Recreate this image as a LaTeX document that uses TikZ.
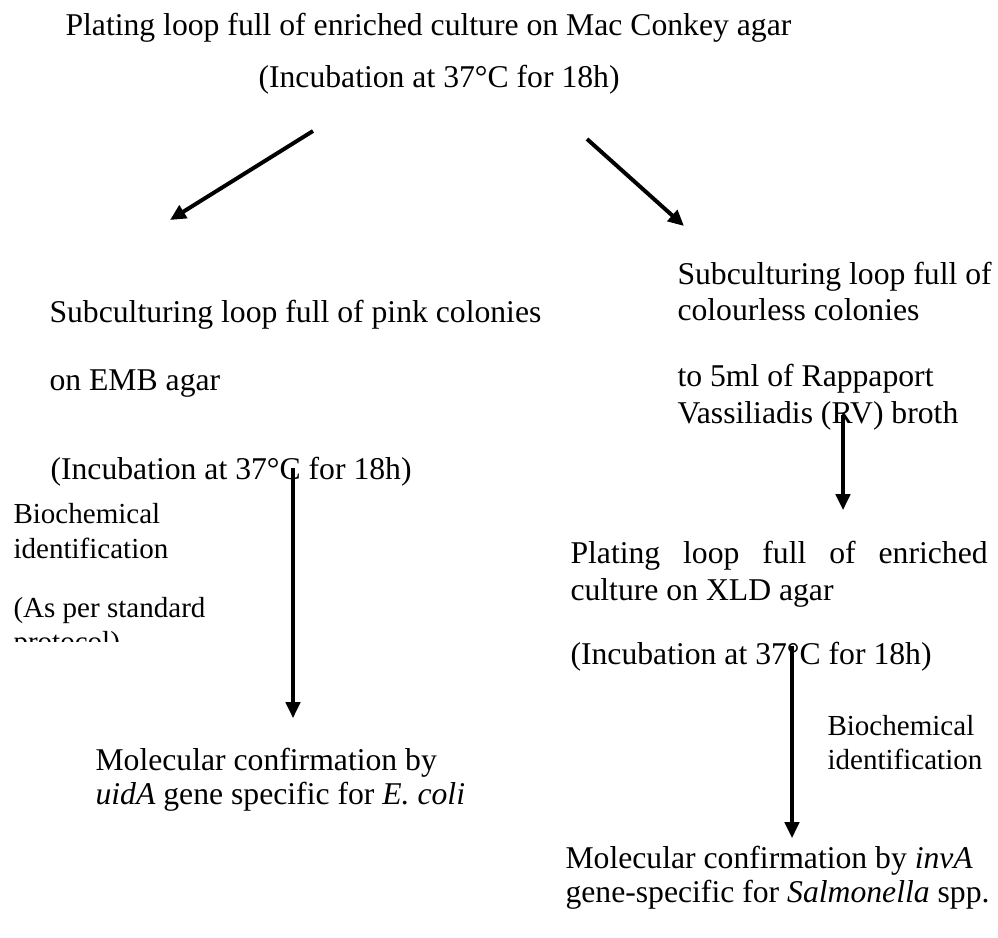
\documentclass[tikz,border=0pt]{standalone}
\usepackage{fontspec}
\setmainfont{Liberation Serif}
\usetikzlibrary{arrows.meta,positioning}
\tikzset{textline/.style={anchor=base west, inner sep=0pt,
  font=\fontsize{12}{13.8}\selectfont},
  noteline/.style={anchor=base west, inner sep=0pt,
  font=\fontsize{11}{12.65}\selectfont},
  flowarrow/.style={-{Triangle[length=6pt,width=5.5pt]}, line width=1.2pt},
  splitarrow/.style={flowarrow, line width=1.5pt}}

\begin{document}
\begin{tikzpicture}[x=0.3788pt,y=-0.3788pt]
    \useasboundingbox (0,0) rectangle (998,937);
    % Mac Conkey plating
    \node[textline] (mac) at (65,35) {Plating loop full of enriched culture on Mac Conkey agar};
    \node[textline] (macinc) at (258,87) {(Incubation at 37°C for 18h)};
    % E. coli branch
    \node[textline] (emb1) at (49,322) {Subculturing loop full of pink colonies};
    \node[textline] (emb2) at (49,390) {on EMB agar};
    \node[textline] (embinc) at (50,479) {(Incubation at 37°C for 18h)};
    \node[noteline] (bio1) at (13,523) {Biochemical};
    \node[noteline] (bio2) at (13,558) {identification};
    \node[noteline] (std) at (13,617) {(As per standard};
    \begin{scope}
      \clip (0,600) rectangle (300,641);
      \node[noteline] (prot) at (13,651) {protocol)};
    \end{scope}
    \node[textline] (eco1) at (95,770) {Molecular confirmation by};
    \node[textline] (eco2) at (95,804) {\textit{uidA} gene specific for \textit{E. coli}};
    % Salmonella branch
    \node[textline] (rv1) at (677,284) {Subculturing loop full of};
    \node[textline] (rv2) at (677,320) {colourless colonies};
    \node[textline] (rv3) at (677,386) {to 5ml of Rappaport};
    \node[textline] (rv4) at (677,423) {Vassiliadis (RV) broth};
    \node[textline] (xld1) at (570,563) {\makebox[158pt][s]{Plating loop full of enriched}};
    \node[textline] (xld2) at (570,600) {culture on XLD agar};
    \node[textline] (xldinc) at (570,664) {(Incubation at 37°C for 18h)};
    \node[noteline] (bio3) at (827,735) {Biochemical};
    \node[noteline] (bio4) at (827,769) {identification};
    \node[textline] (sal1) at (565,868) {Molecular confirmation by \textit{invA}};
    \node[textline] (sal2) at (565,902) {gene-specific for \textit{Salmonella} spp.};
    % arrows
    \coordinate (la) at (313,131);
    \coordinate (lb) at (170,220);
    \coordinate (ra) at (587,139);
    \coordinate (rb) at (684,226);
    \coordinate (ea) at (293,468);
    \coordinate (eb) at (293,718);
    \coordinate (va) at (843,415);
    \coordinate (vb) at (843,510);
    \coordinate (xa) at (792,646);
    \coordinate (xb) at (792,838);
    \draw[splitarrow] (la) -- (lb);
    \draw[splitarrow] (ra) -- (rb);
    \draw[flowarrow] (ea) -- (eb);
    \draw[flowarrow] (va) -- (vb);
    \draw[flowarrow] (xa) -- (xb);
  \end{tikzpicture}
\end{document}
